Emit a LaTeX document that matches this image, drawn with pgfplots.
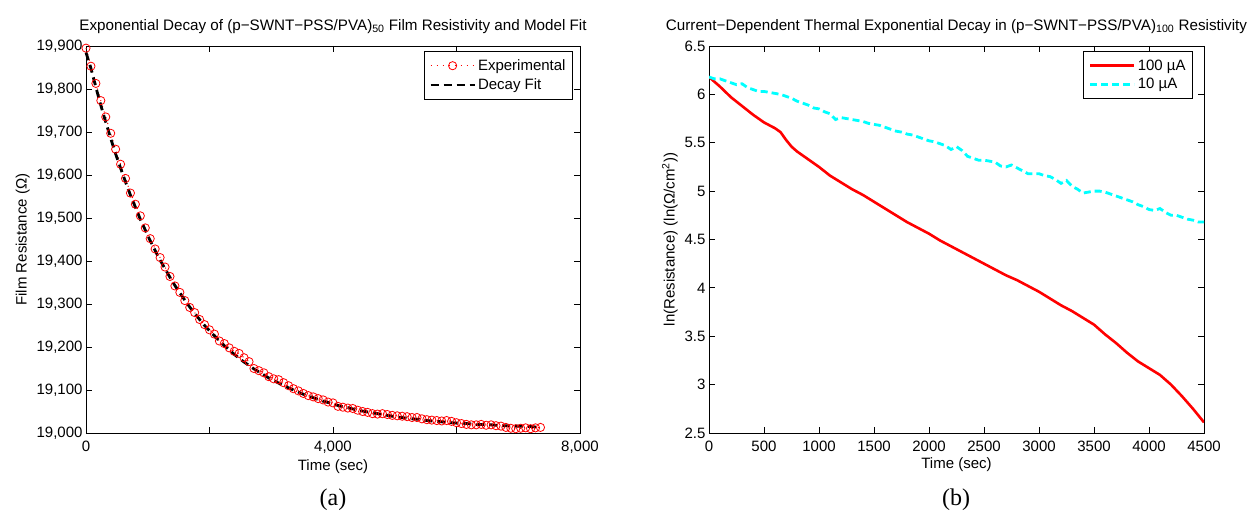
\documentclass[border=0pt]{standalone}
\usepackage{fontspec}
\setmainfont{Liberation Sans}
\newfontfamily\capfont{Liberation Serif}
\usepackage{pgfplots}
\pgfplotsset{compat=1.18}
\usepackage{pgfplotstable}
\definecolor{mcyan}{RGB}{0,255,255}
\definecolor{mred}{RGB}{255,0,0}

\pgfplotstableread{
t r
0 19895
80 19853
160 19813
240 19773
320 19735
400 19697
480 19660
560 19625
640 19592
720 19558
800 19532
880 19505
960 19477
1040 19452
1120 19428
1200 19408
1280 19386
1360 19364
1440 19342
1520 19327
1600 19308
1680 19292
1760 19280
1840 19264
1920 19252
2000 19240
2080 19230
2160 19214
2240 19208
2320 19198
2400 19190
2480 19185
2560 19175
2640 19166
2720 19150
2800 19145
2880 19140
2960 19131
3040 19126
3120 19124
3200 19117
3280 19110
3360 19103
3440 19098
3520 19092
3600 19087
3680 19084
3760 19080
3840 19077
3920 19072
4000 19070
4080 19062
4160 19060
4240 19058
4320 19057
4400 19053
4480 19050
4560 19048
4640 19045
4720 19044
4800 19045
4880 19043
4960 19041
5040 19040
5120 19039
5200 19038
5280 19036
5360 19036
5440 19033
5520 19031
5600 19030
5680 19029
5760 19028
5840 19029
5920 19027
6000 19024
6080 19022
6160 19020
6240 19019
6320 19019
6400 19020
6480 19018
6560 19019
6640 19017
6720 19016
6800 19013
6880 19011
6960 19010
7040 19011
7120 19012
7200 19010
7280 19012
7360 19013
}\expdata

\pgfplotstableread{
t r
0 19885
80 19848
160 19804
240 19762
320 19723
400 19685
480 19649
560 19616
640 19584
720 19553
800 19525
880 19497
960 19472
1040 19447
1120 19424
1200 19402
1280 19382
1360 19362
1440 19343
1520 19326
1600 19309
1680 19293
1760 19278
1840 19264
1920 19250
2000 19238
2080 19226
2160 19214
2240 19203
2320 19193
2400 19183
2480 19174
2560 19165
2640 19157
2720 19149
2800 19142
2880 19135
2960 19128
3040 19122
3120 19116
3200 19110
3280 19105
3360 19100
3440 19095
3520 19090
3600 19086
3680 19082
3760 19078
3840 19074
3920 19071
4000 19068
4080 19064
4160 19061
4240 19059
4320 19056
4400 19053
4480 19051
4560 19049
4640 19047
4720 19045
4800 19043
4880 19041
4960 19039
5040 19037
5120 19036
5200 19034
5280 19033
5360 19032
5440 19031
5520 19029
5600 19028
5680 19027
5760 19026
5840 19025
5920 19024
6000 19023
6080 19023
6160 19022
6240 19021
6320 19020
6400 19020
6480 19019
6560 19019
6640 19018
6720 19017
6800 19017
6880 19017
6960 19016
7040 19016
7120 19015
7200 19015
7280 19014
7360 19014
}\fitdata

\pgfplotstableread{
t r
0 6.18
100 6.08
200 5.97
300 5.88
400 5.79
500 5.71
600 5.65
650 5.61
700 5.53
750 5.46
800 5.41
900 5.33
1000 5.25
1100 5.16
1200 5.09
1300 5.02
1400 4.96
1500 4.89
1600 4.82
1700 4.75
1800 4.68
1900 4.62
2000 4.56
2100 4.49
2200 4.43
2300 4.37
2400 4.31
2500 4.25
2600 4.19
2700 4.13
2800 4.08
2900 4.02
3000 3.96
3100 3.89
3200 3.82
3300 3.76
3400 3.69
3500 3.62
3600 3.52
3700 3.43
3800 3.33
3900 3.24
4000 3.17
4100 3.10
4200 3.00
4300 2.88
4400 2.75
4500 2.61
}\hundred

\pgfplotstableread{
t r
0 6.18
50 6.16
100 6.16
150 6.14
200 6.12
250 6.10
300 6.11
350 6.07
400 6.05
450 6.03
500 6.03
550 6.02
600 6.01
650 6.00
700 5.98
750 5.96
800 5.93
850 5.91
900 5.89
950 5.86
1000 5.85
1050 5.82
1100 5.80
1150 5.74
1200 5.76
1250 5.75
1300 5.74
1350 5.73
1400 5.72
1450 5.70
1500 5.69
1550 5.68
1600 5.66
1650 5.64
1700 5.62
1750 5.61
1800 5.59
1850 5.58
1900 5.56
1950 5.54
2000 5.52
2050 5.51
2100 5.49
2150 5.47
2200 5.43
2250 5.46
2300 5.42
2350 5.36
2400 5.34
2450 5.32
2500 5.32
2550 5.31
2600 5.30
2650 5.26
2700 5.25
2750 5.27
2800 5.24
2850 5.21
2900 5.18
2950 5.18
3000 5.18
3050 5.16
3100 5.15
3150 5.12
3200 5.08
3250 5.11
3300 5.05
3350 5.02
3400 4.98
3450 4.99
3500 5.00
3550 5.00
3600 4.99
3650 4.97
3700 4.95
3750 4.93
3800 4.91
3850 4.89
3900 4.86
3950 4.84
4000 4.81
4050 4.80
4100 4.82
4150 4.78
4200 4.75
4250 4.75
4300 4.73
4350 4.71
4400 4.70
4450 4.68
4500 4.68
}\ten

\pgfplotsset{
  mystyle/.style={
    scale only axis,
    anchor=south west,
    width=497pt, height=387pt,
    axis line style={line width=0.9pt},
    every tick/.style={black, line width=0.9pt},
    major tick length=6pt,
    tick align=inside,
    xtick pos=both, ytick pos=both,
    tick label style={font=\fontsize{15}{17}\selectfont},
    xticklabel style={yshift=-4pt},
    label style={font=\fontsize{15}{17}\selectfont},
    title style={font=\fontsize{15.2}{17}\selectfont, yshift=3pt},
    /pgf/number format/assume math mode=true,
    legend cell align=left,
    legend style={font=\fontsize{15}{17}\selectfont, draw=black, line width=1pt,
      fill=white, anchor=north east, inner xsep=5pt, inner ysep=6pt, row sep=3pt},
    legend image code/.code={\draw[mark repeat=2,mark phase=2,##1] plot coordinates {(0pt,0pt) (22pt,0pt) (44pt,0pt)};},
  }
}

\begin{document}
\begin{tikzpicture}
\useasboundingbox (0,0) rectangle (1250pt,512pt);

\begin{axis}[mystyle,
  at={(86pt,79pt)}, width=494pt,
  xmin=0, xmax=8000, ymin=19000, ymax=19900,
  xtick={0,2000,4000,6000,8000},
  xticklabels={0,,{4,000},,{8,000}},
  ytick={19000,19100,...,19900},
  scaled y ticks=false,
  /pgf/number format/1000 sep={,},
  clip=false,
  title={Exponential Decay of (p−SWNT−PSS/PVA)\textsubscript{50} Film Resistivity and Model Fit},
  xlabel={Time (sec)},
  ylabel={Film Resistance (Ω)},
  legend style={at={(0.986,0.987)}},
]
\addplot[mred, line width=1pt, dash pattern=on 1pt off 5pt, mark=o, mark size=4.1pt,
  mark options={solid, line width=0.8pt}] table[x=t,y=r] {\expdata};
\addlegendentry{Experimental}
\addplot[black, line width=2.8pt, dash pattern=on 8pt off 5pt] table[x=t,y=r] {\fitdata};
\addlegendentry{Decay Fit}
\end{axis}

\begin{axis}[mystyle,
  at={(709pt,79pt)}, width=495pt,
  xmin=0, xmax=4500, ymin=2.5, ymax=6.5,
  xtick={0,500,...,4500},
  ytick={2.5,3,...,6.5},
  /pgf/number format/1000 sep={},
  title={Current−Dependent Thermal Exponential Decay in (p−SWNT−PSS/PVA)\textsubscript{100} Resistivity},
  xlabel={Time (sec)},
  ylabel={ln(Resistance) (ln(Ω/cm\textsuperscript{2}))},
  legend style={at={(0.978,0.987)}},
]
\addplot[mred, line width=2.6pt] table[x=t,y=r] {\hundred};
\addlegendentry{100 µA}
\addplot[mcyan, line width=2.8pt, dash pattern=on 7pt off 4pt] table[x=t,y=r] {\ten};
\addlegendentry{10 µA}
\end{axis}

\node[font=\capfont\fontsize{24}{26}\selectfont] at (333pt,12pt) {(a)};
\node[font=\capfont\fontsize{24}{26}\selectfont] at (956pt,12pt) {(b)};
\end{tikzpicture}
\end{document}
